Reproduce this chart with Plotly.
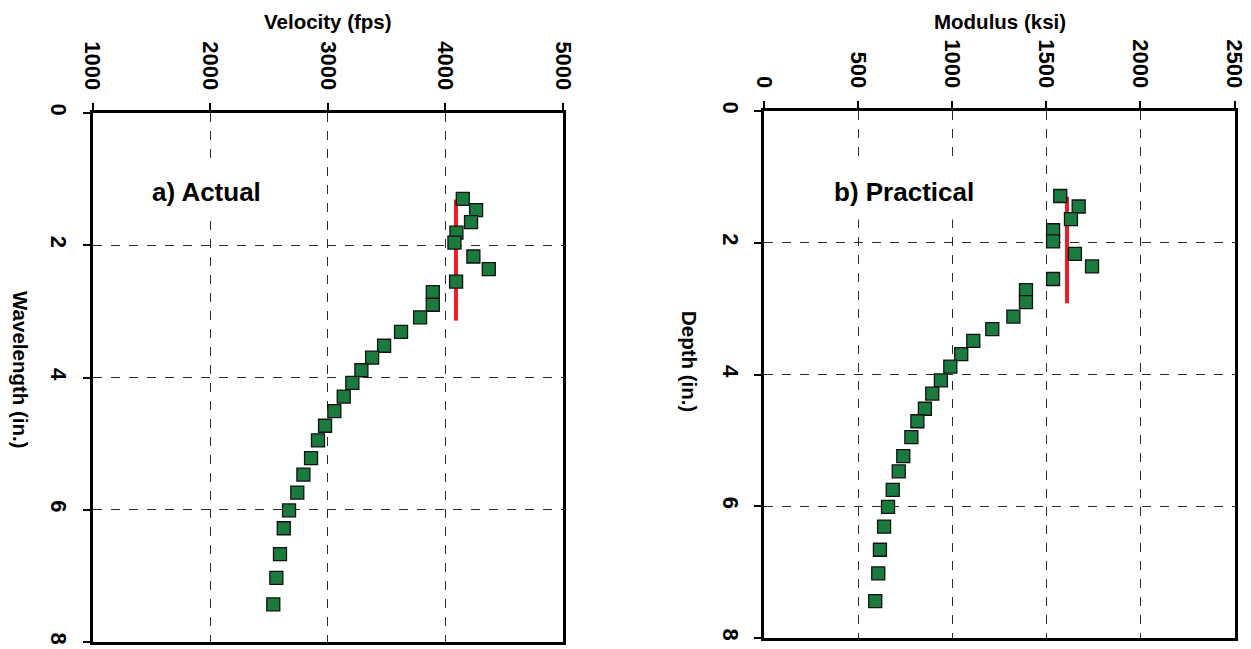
import plotly.graph_objects as go

# page has an 8px body margin: figure is sized/placed so page pixels match the reference
OFF = 8
W, H = 1251 - OFF, 649 - OFF

def px(x):
    return (x - OFF) / W

def py(y):
    return 1 - (y - OFF) / H

# ---- data: panel a) Actual ----
wavelength_in = [1.30, 1.47, 1.65, 1.81, 1.96, 2.17, 2.36, 2.55, 2.71, 2.90, 3.09, 3.31, 3.52, 3.70,
                 3.89, 4.08, 4.29, 4.51, 4.73, 4.95, 5.22, 5.47, 5.74, 6.01, 6.28, 6.67, 7.03, 7.43]
velocity_fps = [4148, 4261, 4218, 4094, 4077, 4238, 4369, 4091, 3893, 3893, 3785, 3623, 3479, 3377,
                3286, 3209, 3136, 3056, 2977, 2917, 2858, 2793, 2741, 2671, 2626, 2594, 2563, 2537]
avg_velocity_fps = [4090, 4090]
avg_velocity_depth = [1.31, 3.14]

# ---- data: panel b) Practical ----
depth_in = [1.29, 1.45, 1.64, 1.81, 1.98, 2.17, 2.36, 2.55, 2.72, 2.90, 3.12, 3.31, 3.49, 3.69,
            3.88, 4.09, 4.29, 4.52, 4.71, 4.95, 5.24, 5.47, 5.75, 6.01, 6.31, 6.66, 7.02, 7.44]
modulus_ksi = [1574, 1672, 1631, 1536, 1536, 1652, 1743, 1536, 1392, 1392, 1325, 1213, 1112, 1048,
               990, 940, 894, 855, 815, 783, 740, 716, 684, 659, 638, 616, 607, 591]
avg_modulus_ksi = [1610, 1610]
avg_modulus_depth = [1.30, 2.92]

vel_ticks = [1000, 2000, 3000, 4000, 5000]
mod_ticks = [0, 500, 1000, 1500, 2000, 2500]
depth_ticks = [0, 2, 4, 6, 8]

GREEN = "#1b7b3f"
RED = "#ee1c25"
FONT = "Liberation Sans"

fig = go.Figure()

fig.add_trace(go.Scatter(x=avg_velocity_fps, y=avg_velocity_depth, mode="lines",
                         line=dict(color=RED, width=4), xaxis="x", yaxis="y", showlegend=False))
fig.add_trace(go.Scatter(x=velocity_fps, y=wavelength_in, mode="markers",
                         marker=dict(symbol="square", size=13, color=GREEN,
                                     line=dict(color="#111", width=1.3)),
                         xaxis="x", yaxis="y", showlegend=False))
fig.add_trace(go.Scatter(x=avg_modulus_ksi, y=avg_modulus_depth, mode="lines",
                         line=dict(color=RED, width=4), xaxis="x2", yaxis="y2", showlegend=False))
fig.add_trace(go.Scatter(x=modulus_ksi, y=depth_in, mode="markers",
                         marker=dict(symbol="square", size=13, color=GREEN,
                                     line=dict(color="#111", width=1.3)),
                         xaxis="x2", yaxis="y2", showlegend=False))

tickfont = dict(family=FONT, size=22, color="black", weight="bold")

def common():
    return dict(tickangle=90, tickfont=tickfont, ticks="outside", ticklen=7,
                tickcolor="black", tickwidth=1.5, showline=True, linecolor="black", linewidth=3,
                mirror=True, showgrid=True, gridcolor="#2a2a2a", griddash="dash", gridwidth=1.2,
                zeroline=False, fixedrange=True, automargin=False)

def xax(rng, ticks, dom, anchor):
    d = common()
    d.update(range=rng, tickvals=ticks, ticktext=[str(t) for t in ticks], domain=dom, anchor=anchor,
             side="top", ticklabelstandoff=5)
    return d

def yax(ticks, dom, anchor):
    d = common()
    d.update(range=[8, 0], tickvals=ticks, ticktext=[str(t) for t in ticks], domain=dom, anchor=anchor,
             ticklabelstandoff=5)
    return d

fig.update_layout(
    width=W, height=H,
    margin=dict(l=0, r=0, t=0, b=0),
    paper_bgcolor="white", plot_bgcolor="white",
    xaxis=xax([1000, 5000], vel_ticks, [px(92.5), px(563)], "y"),
    yaxis=yax(depth_ticks, [py(642), py(113)], "x"),
    xaxis2=xax([0, 2500], mod_ticks, [px(764), px(1234.5)], "y2"),
    yaxis2=yax(depth_ticks, [py(638), py(111)], "x2"),
    font=dict(family=FONT, color="black"),
)

titlefont = dict(family=FONT, size=20.5, color="black", weight="bold")
labelfont = dict(family=FONT, size=26, color="black", weight="bold")
ann = [
    dict(text="Velocity (fps)", x=px(328), y=py(22), font=titlefont),
    dict(text="Modulus (ksi)", x=px(1000), y=py(22), font=titlefont),
    dict(text="Wavelength (in.)", x=px(21), y=py(370), font=titlefont, textangle=90),
    dict(text="Depth (in.)", x=px(690), y=py(361), font=titlefont, textangle=90),
    dict(text="a) Actual", x=px(206), y=py(192), font=labelfont, bgcolor="white", borderpad=12),
    dict(text="b) Practical", x=px(904), y=py(192), font=labelfont, bgcolor="white", borderpad=12),
]
for a in ann:
    a.update(xref="paper", yref="paper", showarrow=False, xanchor="center", yanchor="middle")
fig.update_layout(annotations=ann)

fig.write_html("out.html")
